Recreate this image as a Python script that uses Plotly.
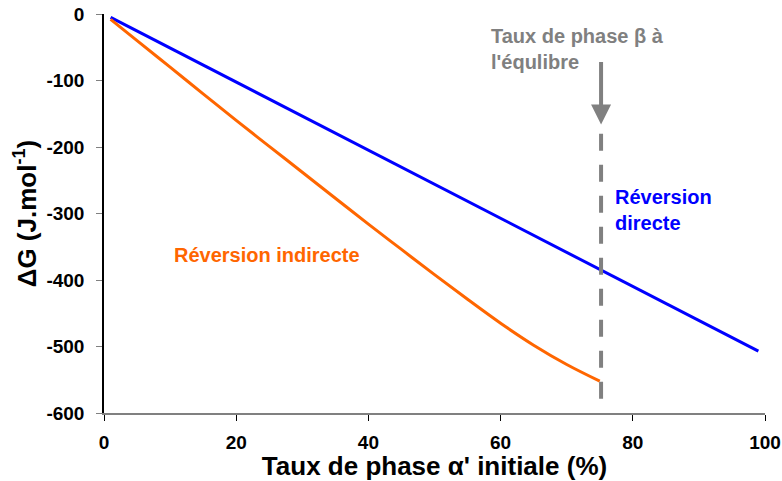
import plotly.graph_objects as go

# Fraction of initial alpha' phase (%) and Gibbs energy change (J/mol)
x_directe = [1, 25, 50, 75, 99]
dg_directe = [-5, -128, -256, -384, -507]

x_indirecte = [1, 5, 10, 15, 20, 25, 30, 35, 40, 45, 50, 55, 60, 65, 70, 75]
dg_indirecte = [-8, -40, -80, -120, -160, -199, -238, -277, -316, -354,
                -392, -429, -465, -498, -527, -552]

# Equilibrium beta-phase fraction marker
x_equilibre = 75.2
y_marker = [-180, -583]

x_ticks = [0, 20, 40, 60, 80, 100]
y_ticks = [0, -100, -200, -300, -400, -500, -600]

BLUE = "#0000FF"
ORANGE = "#FF6600"
GRAY = "#808080"
FONT = "Liberation Sans, Arial, sans-serif"

fig = go.Figure()

fig.add_trace(go.Scatter(x=x_directe, y=dg_directe, mode="lines",
                         line=dict(color=BLUE, width=3), showlegend=False))
fig.add_trace(go.Scatter(x=x_indirecte, y=dg_indirecte, mode="lines",
                         line=dict(color=ORANGE, width=3, shape="spline"),
                         showlegend=False))

# Dashed vertical line at the equilibrium fraction
fig.add_shape(type="line", xref="x", yref="y",
              x0=x_equilibre, x1=x_equilibre, y0=y_marker[0], y1=y_marker[1],
              line=dict(color=GRAY, width=4, dash="17px,14px"))

# Downward arrow above the dashed line
fig.add_annotation(x=x_equilibre, y=-166, xref="x", yref="y",
                   ax=0, ay=-64, text="", showarrow=True,
                   arrowhead=2, arrowsize=1, arrowwidth=4, arrowcolor=GRAY)

fig.add_annotation(x=58.2, y=-52.7, xref="x", yref="y",
                   text="<b>Taux de phase β à<br>l'équlibre</b>",
                   showarrow=False, xanchor="left", yanchor="middle", align="left",
                   font=dict(family=FONT, size=20, color=GRAY))

fig.add_annotation(x=10.3, y=-362, xref="x", yref="y",
                   text="<b>Réversion indirecte</b>",
                   showarrow=False, xanchor="left", yanchor="middle",
                   font=dict(family=FONT, size=20, color=ORANGE))

fig.add_annotation(x=77.0, y=-294, xref="x", yref="y",
                   text="<b>Réversion<br>directe</b>",
                   showarrow=False, xanchor="left", yanchor="middle", align="left",
                   font=dict(family=FONT, size=20, color=BLUE))

fig.update_layout(
    width=782, height=481,
    margin=dict(l=104, r=17, t=14, b=68),
    paper_bgcolor="white", plot_bgcolor="white",
    font=dict(family=FONT, color="black"),
    xaxis=dict(
        range=[0, 100], tickvals=x_ticks,
        ticktext=[f"<b>{v}</b>" for v in x_ticks],
        showgrid=False, zeroline=False, automargin=False,
        showline=True, linecolor=GRAY, linewidth=2,
        ticks="outside", ticklen=6, tickwidth=1, tickcolor="black",
        tickfont=dict(family=FONT, size=19, color="black"),
        ticklabelstandoff=5,
        title=dict(text="<b>Taux de phase α' initiale (%)</b>",
                   font=dict(family=FONT, size=26, color="black"), standoff=8),
    ),
    yaxis=dict(
        range=[-600, 0], tickvals=y_ticks,
        ticktext=[f"<b>{v}</b>" for v in y_ticks],
        showgrid=False, zeroline=False, automargin=False,
        showline=True, linecolor="black", linewidth=1.5,
        ticks="outside", ticklen=6, tickwidth=1, tickcolor=GRAY,
        tickfont=dict(family=FONT, size=19, color="black"),
        ticklabelstandoff=8,
        title=dict(text="<b>ΔG (J.mol<sup>-1</sup>)</b>",
                   font=dict(family=FONT, size=26, color="black"), standoff=2),
    ),
)

fig.write_html("out.html")
